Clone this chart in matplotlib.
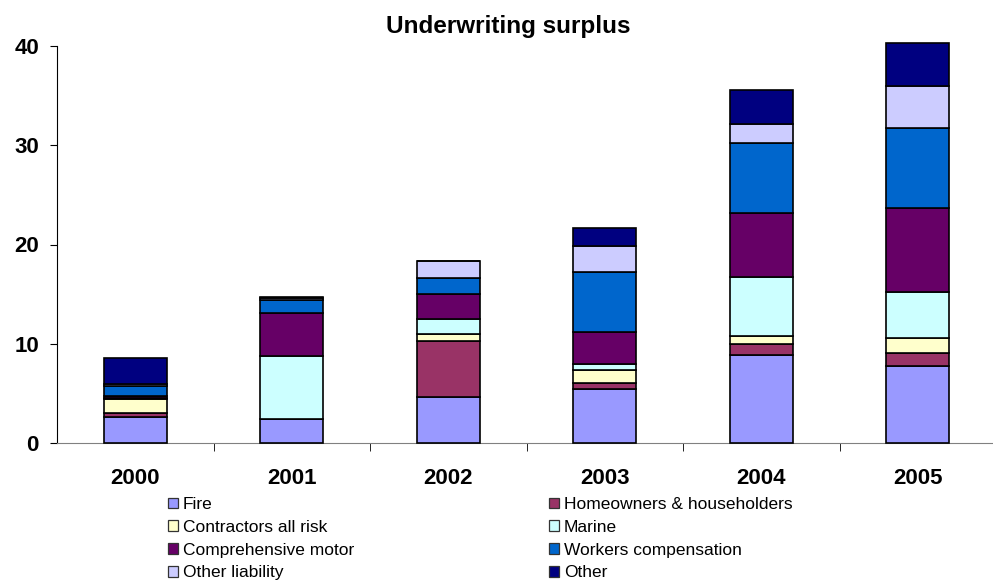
import matplotlib
matplotlib.use("Agg")
import matplotlib.pyplot as plt
from matplotlib.patches import Patch
import numpy as np

plt.rcParams['font.family'] = ['Liberation Sans', 'DejaVu Sans']

years = ["2000", "2001", "2002", "2003", "2004", "2005"]
fire = [2.65, 2.4, 4.63, 5.47, 8.87, 7.72]
homeowners = [0.4, 0.0, 5.64, 0.57, 1.14, 1.31]
contractors = [1.4, 0.0, 0.67, 1.27, 0.74, 1.54]
marine = [0.1, 6.35, 1.57, 0.67, 6.01, 4.6]
motor = [0.17, 4.35, 2.55, 3.16, 6.37, 8.53]
workers = [1.0, 1.3, 1.57, 6.05, 7.05, 7.99]
other_liability = [0.25, 0.2, 1.7, 2.68, 1.95, 4.3]
other = [2.6, 0.1, 0.0, 1.78, 3.46, 4.3]

series_names = ["Fire", "Homeowners & householders", "Contractors all risk", "Marine",
                "Comprehensive motor", "Workers compensation", "Other liability", "Other"]
series_values = [fire, homeowners, contractors, marine, motor, workers, other_liability, other]
colors = ["#9999FF", "#993366", "#FFFFCC", "#CCFFFF", "#660066", "#0066CC", "#CCCCFF", "#000080"]

fig = plt.figure(figsize=(9.93, 5.85), dpi=100)
ax = fig.add_axes([57 / 993, (585 - 443) / 585, 939 / 993, 397 / 585])

x = np.arange(len(years))
bottom = np.zeros(len(years))
for vals, col in zip(series_values, colors):
    v = np.array(vals)
    ax.bar(x, v, width=0.4, bottom=bottom, color=col, edgecolor="black",
           linewidth=1.2, clip_on=False, zorder=3)
    bottom += v

ax.set_xlim(-0.5, len(years) - 0.5)
ax.set_ylim(0, 40)
ax.set_yticks([0, 10, 20, 30, 40])
ax.set_yticklabels(["0", "10", "20", "30", "40"], fontsize=16, fontweight="bold")
ax.set_xticks(x)
ax.set_xticklabels(years, fontsize=16, fontweight="bold")
ax.tick_params(axis="x", which="major", length=0, pad=18)
ax.set_xticks(np.arange(0.5, len(years) - 0.5, 1.0), minor=True)
ax.tick_params(axis="x", which="minor", length=6, direction="out", color="black")
ax.tick_params(axis="y", length=5, direction="out", width=0.8, pad=8)

for side in ("top", "right"):
    ax.spines[side].set_visible(False)
ax.spines["bottom"].set_color("#808080")
ax.spines["left"].set_color("black")

fig.text(508 / 993, 1 - 26 / 585, "Underwriting surplus", ha="center", va="center",
         fontsize=17.5, fontweight="bold")

handles = [Patch(facecolor=c, edgecolor="#333333", linewidth=0.9) for c in colors]
left_idx = [0, 2, 4, 6]
right_idx = [1, 3, 5, 7]
common = dict(frameon=False, fontsize=12.5, handlelength=0.57, handleheight=0.57,
              handletextpad=0.3, labelspacing=0.45, borderpad=0, borderaxespad=0)
leg1 = fig.legend([handles[i] for i in left_idx], [series_names[i] for i in left_idx],
                  loc="upper left", bbox_to_anchor=(168 / 993, 1 - 497 / 585), **common)
leg2 = fig.legend([handles[i] for i in right_idx], [series_names[i] for i in right_idx],
                  loc="upper left", bbox_to_anchor=(549 / 993, 1 - 497 / 585), **common)

fig.savefig("out.png", dpi=100)
